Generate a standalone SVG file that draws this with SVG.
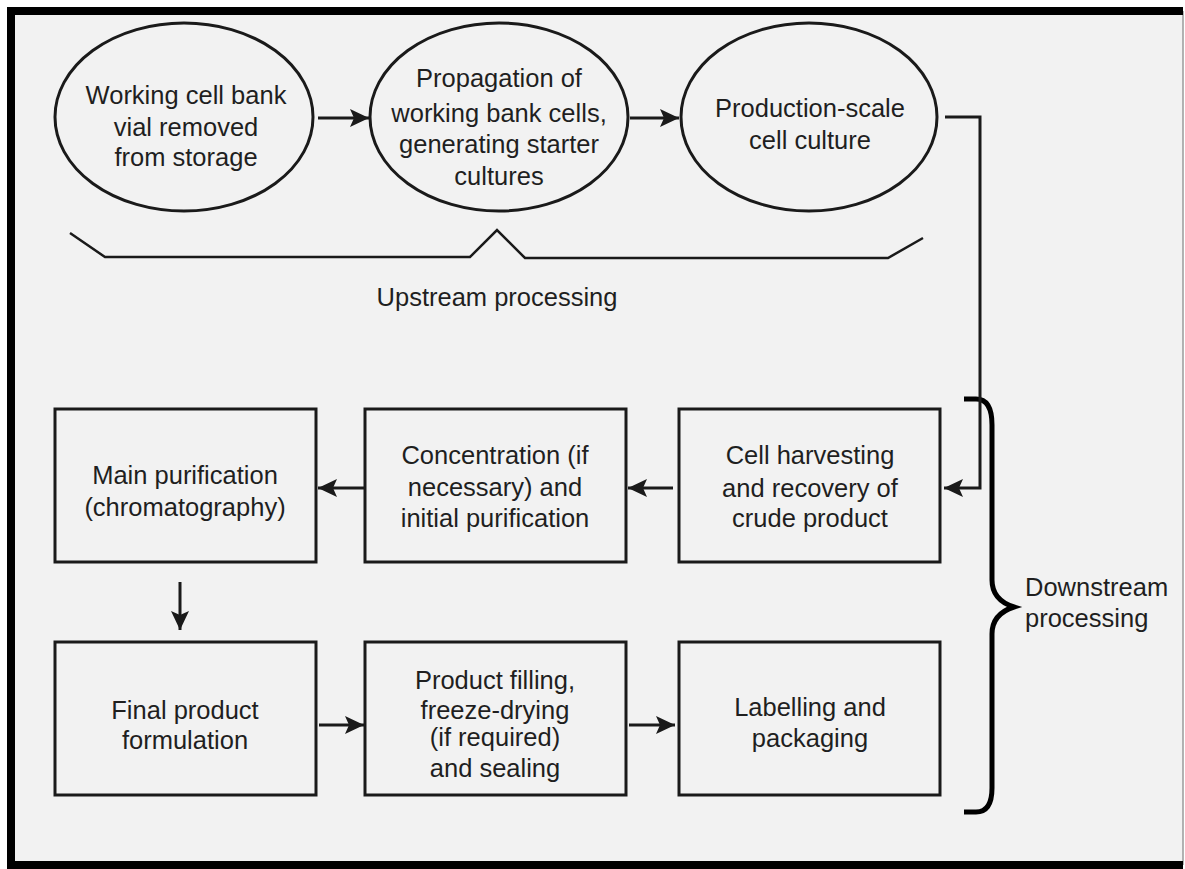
<svg xmlns="http://www.w3.org/2000/svg" width="1185" height="869" viewBox="0 0 1185 869">
<defs>
<style>
.n{fill:none;stroke:#1a1a1a;stroke-width:3}
.t{font-family:"Liberation Sans",Arial,sans-serif;font-size:25.5px;fill:#1f1f1f;text-anchor:middle}
.s{text-anchor:start}
.c{fill:none;stroke:#1a1a1a;stroke-width:3}
.br{fill:none;stroke:#1a1a1a;stroke-width:2.5;stroke-linejoin:miter}
</style>
<marker id="ah" markerUnits="userSpaceOnUse" markerWidth="20" markerHeight="20" refX="19" refY="10" orient="auto">
<path d="M0,1 L19,10 L0,19 L4,10 Z" fill="#1a1a1a"/>
</marker>
</defs>
<rect x="0" y="0" width="1185" height="869" fill="#ffffff"/>
<rect x="11" y="11" width="1172" height="854" fill="#f2f2f2"/>
<line x1="1183" y1="11" x2="1183" y2="865" stroke="#9a9a9a" stroke-width="1.5"/>
<path d="M1183,11 H11 V865 H1183" fill="none" stroke="#000" stroke-width="8"/>

<g id="e1"><ellipse class="n" cx="184" cy="117" rx="129" ry="94"/>
<text class="t" x="186" y="104">Working cell bank</text><text class="t" x="186" y="136">vial removed</text><text class="t" x="186" y="166">from storage</text></g>
<g id="e2"><ellipse class="n" cx="499" cy="117" rx="129" ry="94"/>
<text class="t" x="499" y="87">Propagation of</text><text class="t" x="499" y="122">working bank cells,</text><text class="t" x="499" y="153">generating starter</text><text class="t" x="499" y="185">cultures</text></g>
<g id="e3"><ellipse class="n" cx="809" cy="117" rx="128" ry="94"/>
<text class="t" x="810" y="117">Production-scale</text><text class="t" x="810" y="149">cell culture</text></g>

<g id="upstream"><path class="br" d="M70,233 L105,257 H470 L497,230 L525,258 H888 L923,238"/>
<text class="t" x="497" y="306">Upstream processing</text></g>

<g id="bA"><rect class="n" x="55" y="409" width="261" height="153"/>
<text class="t" x="185" y="484">Main purification</text><text class="t" x="185" y="516">(chromatography)</text></g>
<g id="bB"><rect class="n" x="365" y="409" width="261" height="153"/>
<text class="t" x="495" y="464">Concentration (if</text><text class="t" x="495" y="496">necessary) and</text><text class="t" x="495" y="527">initial purification</text></g>
<g id="bC"><rect class="n" x="679" y="409" width="261" height="153"/>
<text class="t" x="810" y="464">Cell harvesting</text><text class="t" x="810" y="497">and recovery of</text><text class="t" x="810" y="527">crude product</text></g>
<g id="bD"><rect class="n" x="55" y="642" width="261" height="153"/>
<text class="t" x="185" y="719">Final product</text><text class="t" x="185" y="749">formulation</text></g>
<g id="bE"><rect class="n" x="365" y="642" width="261" height="153"/>
<text class="t" x="495" y="689">Product filling,</text><text class="t" x="495" y="719">freeze-drying</text><text class="t" x="495" y="746">(if required)</text><text class="t" x="495" y="777">and sealing</text></g>
<g id="bF"><rect class="n" x="679" y="642" width="261" height="153"/>
<text class="t" x="810" y="716">Labelling and</text><text class="t" x="810" y="747">packaging</text></g>

<g id="downstream"><path d="M964,399 H976 Q992,399 992,425 V580 Q992,600 1014,607 Q992,614 992,634 V788 Q992,812 976,812 H964" fill="none" stroke="#000" stroke-width="5"/>
<text class="t s" x="1025" y="596">Downstream</text><text class="t s" x="1025" y="627">processing</text></g>

<g id="connectors">
<line class="c" x1="318" y1="118" x2="369" y2="118" marker-end="url(#ah)"/>
<line class="c" x1="630" y1="118" x2="679" y2="118" marker-end="url(#ah)"/>
<polyline class="c" points="945,117 980,117 980,488 944,488" marker-end="url(#ah)" stroke-width="2.5"/>
<line class="c" x1="673" y1="488" x2="628" y2="488" marker-end="url(#ah)"/>
<line class="c" x1="364" y1="488" x2="318" y2="488" marker-end="url(#ah)"/>
<line class="c" x1="180" y1="582" x2="180" y2="630" marker-end="url(#ah)" stroke-width="2.5"/>
<line class="c" x1="319" y1="725" x2="364" y2="725" marker-end="url(#ah)"/>
<line class="c" x1="629" y1="725" x2="675" y2="725" marker-end="url(#ah)"/>
</g>
</svg>
